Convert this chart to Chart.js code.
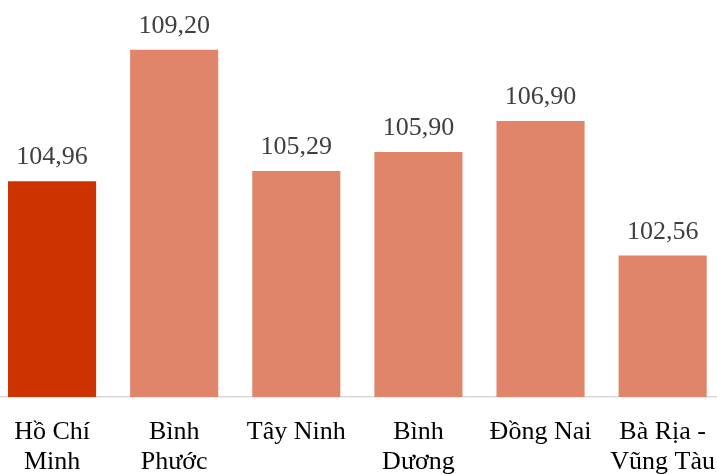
<!DOCTYPE html>
<html>
<head>
<meta charset="utf-8">
<script src="https://cdn.jsdelivr.net/npm/chart.js@4.4.0/dist/chart.umd.min.js"></script>
<style>
  html, body { margin: 0; padding: 0; background: #fff; overflow: hidden; }
  #provChart { position: absolute; left: -9px; top: 0; }
</style>
</head>
<body>
<canvas id="provChart" width="736" height="474"></canvas>
<script>
const provinces = [
  ['Hồ Chí', 'Minh'],
  ['Bình', 'Phước'],
  'Tây Ninh',
  ['Bình', 'Dương'],
  'Đồng Nai',
  ['Bà Rịa -', 'Vũng Tàu']
];
const indexValues = [104.96, 109.20, 105.29, 105.90, 106.90, 102.56];
const barColors = ['#cc3300', '#e0846a', '#e0846a', '#e0846a', '#e0846a', '#e0846a'];

const serif = '"Liberation Serif", "Times New Roman", serif';

// value labels above each bar, comma as decimal separator
const valueLabels = {
  id: 'valueLabels',
  afterDatasetsDraw(chart) {
    const ctx = chart.ctx;
    const meta = chart.getDatasetMeta(0);
    ctx.save();
    ctx.font = '26px ' + serif;
    ctx.fillStyle = '#404040';
    ctx.textAlign = 'center';
    ctx.textBaseline = 'alphabetic';
    meta.data.forEach((bar, i) => {
      const txt = indexValues[i].toFixed(2).replace('.', ',');
      ctx.fillText(txt, bar.x, bar.y - 17);
    });
    ctx.restore();
  }
};

function initChart() {
  const ctx = document.getElementById('provChart').getContext('2d');
  new Chart(ctx, {
    type: 'bar',
    data: {
      labels: provinces,
      datasets: [{
        data: indexValues,
        backgroundColor: barColors,
        borderWidth: 0,
        categoryPercentage: 1,
        barPercentage: 0.7213
      }]
    },
    options: {
      responsive: false,
      animation: false,
      layout: { padding: 0 },
      plugins: {
        legend: { display: false },
        tooltip: { enabled: false }
      },
      scales: {
        x: {
          grid: { display: false },
          border: { display: true, color: '#d9d9d9', width: 1.5 },
          ticks: {
            color: '#000',
            padding: 12,
            font: { family: serif, size: 26, lineHeight: 1.15 },
            maxRotation: 0,
            autoSkip: false
          },
          afterFit: (scale) => { scale.height = 77; }
        },
        y: {
          display: false,
          min: 98,
          max: 110.8
        }
      }
    },
    plugins: [valueLabels]
  });
}

if (document.readyState === 'loading') {
  document.addEventListener('DOMContentLoaded', initChart);
} else {
  initChart();
}
</script>
</body>
</html>
